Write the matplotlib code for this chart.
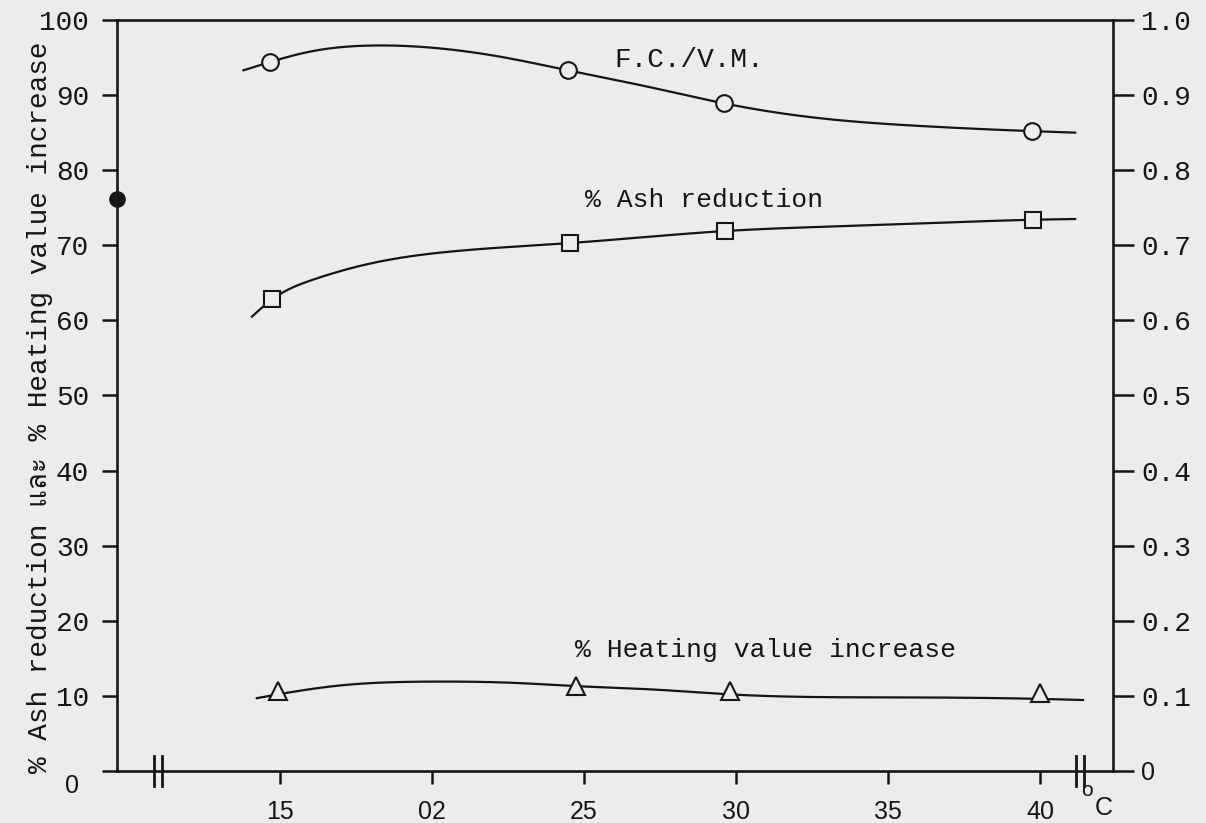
import numpy as np
import matplotlib
matplotlib.use('Agg')
import matplotlib.pyplot as plt
from matplotlib import font_manager, transforms
from matplotlib.ft2font import FT2Font

# x axis (temperature, oC)
temp_ticks = [15, 20, 25, 30, 35, 40]
temp_labels = ['15', '02', '25', '30', '35', '40']

# left axis : % ash reduction / % heating value increase
left_ticks = [0, 10, 20, 30, 40, 50, 60, 70, 80, 90, 100]
left_labels = ['0', '10', '20', '30', '40', '50', '60', '70', '80', '90', '100']
# right axis : F.C./V.M.
right_ticks = [0, 0.1, 0.2, 0.3, 0.4, 0.5, 0.6, 0.7, 0.8, 0.9, 1.0]
right_labels = ['0', '0.1', '0.2', '0.3', '0.4', '0.5', '0.6', '0.7', '0.8', '0.9', '1.0']

# F.C./V.M. (right axis)
fc_x = [14.67, 24.47, 29.6, 39.74]
fc_y = [0.944, 0.933, 0.889, 0.852]
fc_curve_x = [13.8, 14.67, 16.0, 18.0, 20.3, 22.4, 24.47, 27.0, 29.6, 32.8, 36.0, 39.74, 41.15]
fc_curve_y = [0.933, 0.944, 0.958, 0.966, 0.962, 0.950, 0.933, 0.912, 0.889, 0.869, 0.859, 0.852, 0.850]

# % Ash reduction (left axis)
ash_x = [14.74, 24.54, 29.64, 39.77]
ash_y = [62.8, 70.3, 71.9, 73.4]
ash_curve_x = [14.08, 14.74, 16.0, 18.0, 20.7, 24.54, 29.64, 34.7, 39.77, 41.15]
ash_curve_y = [60.5, 62.8, 65.3, 67.6, 69.2, 70.3, 71.9, 72.7, 73.4, 73.5]

# % Heating value increase (left axis)
hv_x = [14.93, 24.74, 29.8, 40.0]
hv_y = [10.7, 11.3, 10.7, 10.4]
hv_curve_x = [14.24, 14.93, 17.0, 19.9, 22.9, 24.74, 27.5, 29.8, 35.2, 40.0, 41.41]
hv_curve_y = [9.7, 10.2, 11.4, 11.9, 11.7, 11.3, 10.8, 10.2, 9.8, 9.6, 9.45]

# point marked on the left axis
start_value = 76.2

ink = '#151515'
paper = '#ececec'


def find_font(ch):
    # first installed font that has a glyph for ch
    for f in font_manager.fontManager.ttflist:
        try:
            if FT2Font(f.fname).get_char_index(ord(ch)):
                return f.name
        except Exception:
            pass
    return None


def smooth_curve(x, y, n=300):
    # natural cubic spline through the points
    x = np.asarray(x, float)
    y = np.asarray(y, float)
    h = np.diff(x)
    m = len(x)
    A = np.zeros((m, m))
    r = np.zeros(m)
    A[0, 0] = A[-1, -1] = 1
    for i in range(1, m - 1):
        A[i, i - 1] = h[i - 1]
        A[i, i] = 2 * (h[i - 1] + h[i])
        A[i, i + 1] = h[i]
        r[i] = 3 * ((y[i + 1] - y[i]) / h[i] - (y[i] - y[i - 1]) / h[i - 1])
    c = np.linalg.solve(A, r)
    b = (y[1:] - y[:-1]) / h - h * (2 * c[:-1] + c[1:]) / 3
    d = (c[1:] - c[:-1]) / (3 * h)
    xs = np.linspace(x[0], x[-1], n)
    k = np.clip(np.searchsorted(x, xs) - 1, 0, m - 2)
    dx = xs - x[k]
    return xs, y[k] + b[k] * dx + c[k] * dx ** 2 + d[k] * dx ** 3


mono = 'Liberation Mono'
sans = 'Liberation Sans'
thai = find_font('\u0e41')
label_family = [mono, thai] if thai else [mono, 'DejaVu Sans']

plt.rcParams['font.family'] = [mono, 'DejaVu Sans']

fig = plt.figure(figsize=(12.06, 8.23), dpi=100, facecolor=paper)
ax = fig.add_axes([0.097, 0.0632, 0.826, 0.9125], facecolor=paper)
ax2 = ax.twinx()

ax.set_xlim(9.64, 42.4)
ax.set_ylim(0, 100)
ax2.set_ylim(0, 1)

for s in ax.spines.values():
    s.set_linewidth(1.9)
    s.set_color(ink)
ax.spines['right'].set_visible(False)
for k in ['left', 'top', 'bottom']:
    ax2.spines[k].set_visible(False)
ax2.spines['right'].set_linewidth(1.9)
ax2.spines['right'].set_color(ink)

# ticks
ax.set_xticks(temp_ticks, temp_labels, fontfamily=sans, fontsize=18)
ax.tick_params(axis='x', direction='out', length=9, width=1.8, pad=12, colors=ink)
ax.set_yticks(left_ticks, left_labels, fontsize=20)
ax.tick_params(axis='y', direction='out', length=11, width=1.8, pad=9, colors=ink)
ax2.set_yticks(right_ticks, right_labels, fontsize=20)
ax2.tick_params(axis='y', direction='out', length=15, width=1.8, pad=5, colors=ink)

zero_left = ax.get_yticklabels()[0]
zero_left.set_fontfamily(sans)
zero_left.set_fontsize(18)
zero_left.set_transform(zero_left.get_transform()
                        + transforms.ScaledTranslation(-0.1, -0.13, fig.dpi_scale_trans))
zero_right = ax2.get_yticklabels()[0]
zero_right.set_fontfamily(sans)
zero_right.set_fontsize(18)

# curves
cx, cy = smooth_curve(fc_curve_x, fc_curve_y)
ax2.plot(cx, cy, color=ink, lw=1.6, zorder=2)
ax2.plot(fc_x, fc_y, 'o', ms=12, mfc=paper, mec=ink, mew=1.5, zorder=3)

cx, cy = smooth_curve(ash_curve_x, ash_curve_y)
ax2.plot(cx, cy / 100, color=ink, lw=1.6, zorder=2)
ax2.plot(ash_x, np.array(ash_y) / 100, 's', ms=12, mfc=paper, mec=ink, mew=1.5, zorder=3)

cx, cy = smooth_curve(hv_curve_x, hv_curve_y)
ax2.plot(cx, cy / 100, color=ink, lw=1.6, zorder=2)
ax2.plot(hv_x, np.array(hv_y) / 100, '^', ms=13, mfc=paper, mec=ink, mew=1.5, zorder=3)

ax.plot([ax.get_xlim()[0]], [start_value], 'o', ms=11, color=ink, clip_on=False, zorder=5)

# axis breaks
trans = transforms.blended_transform_factory(ax.transData, ax.transAxes)
for bx in [10.86, 11.12, 41.18, 41.45]:
    ax.plot([bx, bx], [-0.02, 0.02], transform=trans, color=ink, lw=2, clip_on=False)

# curve labels
ax2.text(26.0, 0.947, 'F.C./V.M.', fontsize=20, color=ink, ha='left', va='center')
ax.text(25.03, 76.0, '% Ash reduction', fontsize=19, color=ink, ha='left', va='center')
ax.text(24.7, 16.1, '% Heating value increase', fontsize=19, color=ink, ha='left', va='center')

fig.text(0.033, 0.505, '% Ash reduction และ % Heating value increase', rotation=90,
         family=label_family, fontsize=20, color=ink, ha='center', va='center')

# degree C
fig.text(1087 / 1206, 1 - 790 / 823, 'o', family=sans, fontsize=15, color=ink, ha='center', va='center')
fig.text(1104 / 1206, 1 - 808 / 823, 'C', family=sans, fontsize=18, color=ink, ha='center', va='center')

fig.savefig('out.png', dpi=100, facecolor=paper)
